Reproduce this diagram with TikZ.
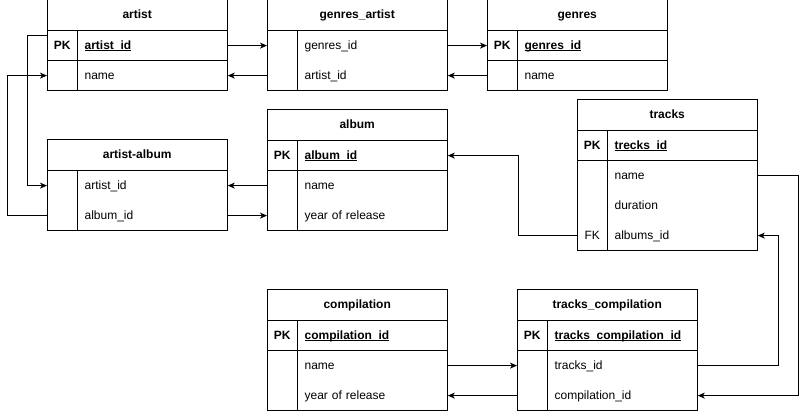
\documentclass[tikz,border=0pt]{standalone}
\usepackage{fontspec}
\setmainfont{Liberation Sans}
\usepackage{tikz}
\usetikzlibrary{arrows.meta, calc, positioning}
\newcommand{\TableFont}{\fontsize{12}{14}\selectfont}
\newcommand{\KeyName}[1]{\textbf{\underline{\smash{#1}}}}
\newcommand{\DbTable}[6][1]{
	\def\tname{#2}
	\def\tx{#3}
	\def\ty{#4}
	\node[headbox] (\tname) at (\tx,\ty) {#5};
	\foreach \k/\f [count=\i] in {#6} {
		\node[keybox, alias=\tname-kl] (\tname-k\i) at ($(\tname.south west)+(0,30*\i-30)$) {\k};
		\node[fieldbox, right=0pt of \tname-k\i, alias=\tname-fl] (\tname-f\i) {\f};
	}
	\draw[tableline] (\tname.north west) rectangle (\tname-fl.south east);
	\draw[tableline] (\tname.south west) -- (\tname.south east);
	\draw[tableline] (\tname-k1.north east) -- (\tname-kl.south east);
	\ifnum#1=1
		\draw[tableline] (\tname-k1.south west) -- (\tname-f1.south east);
	\fi
}

\begin{document}
\begin{tikzpicture}[x=1pt, y=-1pt, line cap=round,
	tableline/.style={line width=1pt, line cap=rect},
	headbox/.style={anchor=north west, minimum width=180, minimum height=30, inner sep=0pt, text height=9pt, text depth=2pt, font=\TableFont\bfseries},
	keybox/.style={anchor=north west, minimum width=30, minimum height=30, inner sep=0pt, text height=9pt, text depth=2pt, font=\TableFont},
	fieldbox/.style={minimum height=30, text width=136pt, inner xsep=7pt, inner ysep=0pt, align=left, text height=9pt, text depth=2pt, font=\TableFont},
	fk/.style={line width=1pt, -{Stealth[length=7pt, width=6pt, inset=2pt]}}]

	\useasboundingbox (0,0) rectangle (806,411);

	\DbTable{artist}{47}{0}{artist}{\textbf{PK}/\KeyName{artist\_id}, /name}
	\DbTable[0]{gartist}{267}{0}{genres\_artist}{/genres\_id, /artist\_id}
	\DbTable{genres}{487}{0}{genres}{\textbf{PK}/\KeyName{genres\_id}, /name}
	\DbTable{album}{267}{110}{album}{\textbf{PK}/\KeyName{album\_id}, /name, /year of release}
	\DbTable[0]{aalbum}{47}{140}{artist-album}{/artist\_id, /album\_id}
	\DbTable{tracks}{577}{100}{tracks}{\textbf{PK}/\KeyName{trecks\_id}, /name, /duration, FK/albums\_id}
	\DbTable{comp}{267}{290}{compilation}{\textbf{PK}/\KeyName{compilation\_id}, /name, /year of release}
	\DbTable{tcomp}{517}{290}{tracks\_compilation}{\textbf{PK}/\KeyName{tracks\_compilation\_id}, /tracks\_id, /compilation\_id}

	\draw[fk] (artist-f1.east) -- (gartist-k1.west);
	\draw[fk] (gartist-k2.west) -- (artist-f2.east);
	\draw[fk] (gartist-f1.east) -- (genres-k1.west);
	\draw[fk] (genres-k2.west) -- (gartist-f2.east);
	\draw[fk] ([yshift=-5pt]artist-k1.north west) -- ++(-20,0) |- (aalbum-k1.west);
	\draw[fk] (aalbum-k2.west) -- ++(-40,0) |- (artist-k2.west);
	\draw[fk] (album-k2.west) -- (aalbum-f1.east);
	\draw[fk] (aalbum-f2.east) -- (album-k3.west);
	\draw[fk] (tracks-k4.west) -- ++(-59,0) |- (album-f1.east);
	\draw[fk] (tracks-f2.east) -- ++(41,0) |- (tcomp-f3.east);
	\draw[fk] (tcomp-f2.east) -- ++(81,0) |- (tracks-f4.east);
	\draw[fk] (comp-f2.east) -- (tcomp-k2.west);
	\draw[fk] (tcomp-k3.west) -- (comp-f3.east);

\end{tikzpicture}
\end{document}
